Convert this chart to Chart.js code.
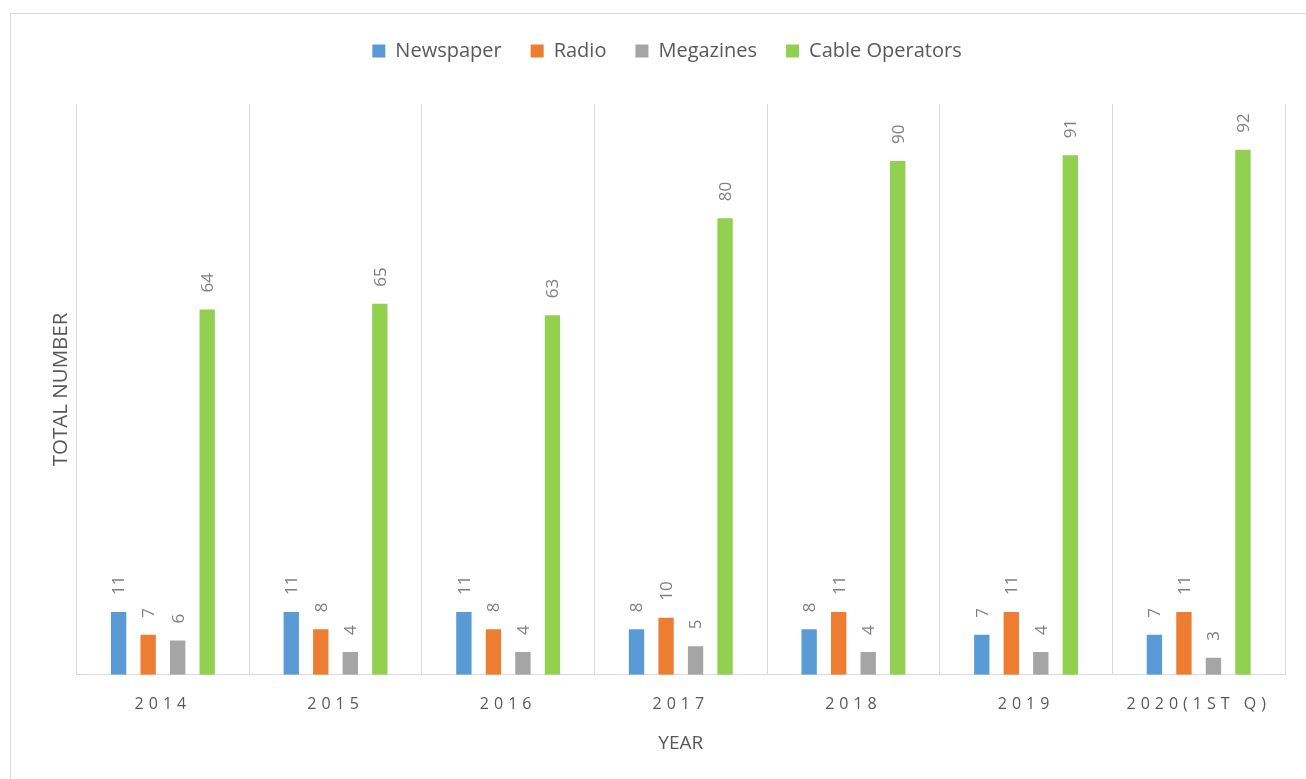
<!DOCTYPE html>
<html>
<head>
<meta charset="utf-8">
<title>Media count by year</title>
<script src="https://cdn.jsdelivr.net/npm/chart.js@4"></script>
<style>
  html, body { margin: 0; padding: 0; background: #ffffff; overflow: hidden; }
  .frame {
    position: absolute; left: 10px; top: 13px;
    width: 1310px; height: 780px;
    border: 1px solid #d9d9d9;
  }
  #chart { position: absolute; left: 0; top: 0; }
</style>
</head>
<body>
<div class="frame"></div>
<canvas id="chart" width="1306" height="779"></canvas>
<script>
// ---- data ----
const years = ['2014', '2015', '2016', '2017', '2018', '2019', '2020(1ST Q)'];
const newspaper = [11, 11, 11, 8, 8, 7, 7];
const radio = [7, 8, 8, 10, 11, 11, 11];
const megazines = [6, 4, 4, 5, 4, 4, 3];
const cableOperators = [64, 65, 63, 80, 90, 91, 92];

const FONT = "'Open Sans', 'Noto Sans', sans-serif";
const TEXT = '#595959';

// legend keeps its own row but leaves room down to the plot
const legendSpacer = {
  id: 'legendSpacer',
  beforeLayout(chart) {
    const lg = chart.legend;
    if (!lg || lg._spaced) return;
    const fit = lg.fit.bind(lg);
    lg.fit = function () {
      fit();
      this.height = 92;
    };
    lg._spaced = true;
  }
};

// spaced-out year labels, like the original
const tickSpacing = {
  id: 'tickSpacing',
  beforeDraw(chart) {
    const sx = chart.scales.x;
    if (!sx || sx._spaced) return;
    const orig = sx.drawLabels.bind(sx);
    sx.drawLabels = function (area) {
      const ctx = chart.ctx;
      ctx.save();
      ctx.letterSpacing = '5px';
      orig(area);
      ctx.restore();
    };
    sx._spaced = true;
  }
};

// rotated value labels above each bar
const barValues = {
  id: 'barValues',
  afterDatasetsDraw(chart) {
    const ctx = chart.ctx;
    ctx.save();
    ctx.font = '17px ' + FONT;
    ctx.fillStyle = '#808080';
    ctx.textAlign = 'left';
    ctx.textBaseline = 'middle';
    chart.data.datasets.forEach((ds, i) => {
      chart.getDatasetMeta(i).data.forEach((bar, j) => {
        ctx.save();
        ctx.translate(bar.x + 1, bar.y - 17);
        ctx.rotate(-Math.PI / 2);
        ctx.fillText(String(ds.data[j]), 0, 0);
        ctx.restore();
      });
    });
    ctx.restore();
  }
};

function series(label, data, color) {
  return {
    label: label,
    data: data,
    backgroundColor: color,
    borderWidth: 0,
    categoryPercentage: 0.684,
    barPercentage: 0.52
  };
}

new Chart(document.getElementById('chart'), {
  type: 'bar',
  data: {
    labels: years,
    datasets: [
      series('Newspaper', newspaper, '#5b9bd5'),
      series('Radio', radio, '#ed7d31'),
      series('Megazines', megazines, '#a5a5a5'),
      series('Cable Operators', cableOperators, '#92d050')
    ]
  },
  options: {
    responsive: false,
    animation: false,
    layout: { padding: { top: 12, left: 49, right: 21, bottom: 26 } },
    plugins: {
      legend: {
        position: 'top',
        labels: {
          boxWidth: 13,
          boxHeight: 13,
          padding: 29,
          color: TEXT,
          font: { size: 20, family: FONT }
        }
      },
      tooltip: { enabled: false }
    },
    scales: {
      x: {
        grid: { color: '#d9d9d9', lineWidth: 1, drawTicks: false },
        border: { color: '#d9d9d9', width: 1 },
        ticks: {
          color: TEXT,
          padding: 20,
          maxRotation: 0,
          font: { size: 16, family: FONT }
        },
        title: {
          display: true,
          text: 'YEAR',
          color: TEXT,
          padding: { top: 0, bottom: 0 },
          font: { size: 19, family: FONT, lineHeight: 1 }
        }
      },
      y: {
        min: 0,
        max: 100,
        grid: { display: false, drawTicks: false },
        border: { display: false },
        ticks: { display: false },
        title: {
          display: true,
          text: 'TOTAL NUMBER',
          color: TEXT,
          padding: { top: 0, bottom: 3 },
          font: { size: 20.5, family: FONT }
        }
      }
    }
  },
  plugins: [legendSpacer, tickSpacing, barValues]
});
</script>
</body>
</html>
